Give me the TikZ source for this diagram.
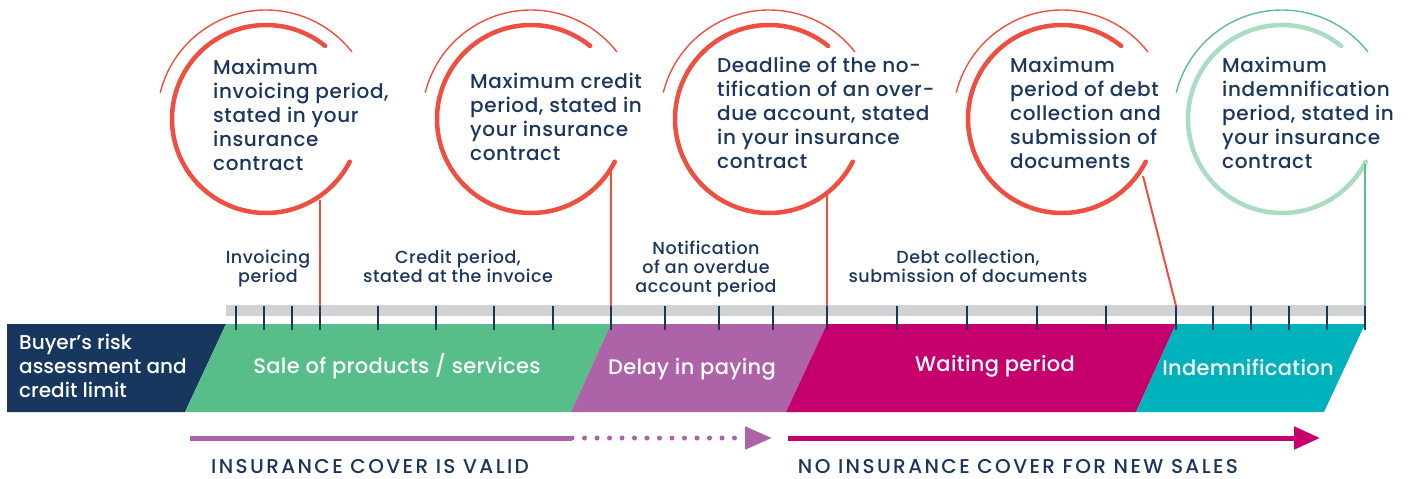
\documentclass[tikz,border=0pt]{standalone}
\usepackage{fontspec}
\setmainfont{Poppins}[UprightFont=* Medium]
\newfontfamily\capsfont{Poppins}[UprightFont=* Medium,LetterSpace=12]
\usetikzlibrary{positioning,arrows.meta}

\definecolor{navy}{HTML}{1B365D}
\definecolor{deepnavy}{HTML}{17375E}
\definecolor{coral}{HTML}{EE4F40}
\definecolor{mint}{HTML}{A9DCC1}
\definecolor{leaf}{HTML}{5DBE8A}
\definecolor{salegreen}{HTML}{57BD89}
\definecolor{lilac}{HTML}{AD63A7}
\definecolor{berry}{HTML}{C5006D}
\definecolor{lagoon}{HTML}{00B2BB}
\definecolor{rail}{HTML}{D0D2D3}

\begin{document}
\begin{tikzpicture}[x=1pt,y=-1pt,
  ring/.style={line width=4.5pt,line cap=round},
  halo/.style={line width=1.4pt},
  bubbletext/.style={text=navy,align=left,anchor=north west,inner sep=0pt,
    font=\fontsize{20}{24}\selectfont\addfontfeatures{LetterSpace=3}},
  spantext/.style={text=navy,align=center,anchor=north,inner sep=0pt,
    font=\fontsize{17.5}{19}\selectfont\addfontfeatures{LetterSpace=3}},
  phasetext/.style={text=white,inner sep=0pt,
    font=\fontsize{21}{24}\selectfont\addfontfeatures{LetterSpace=1.5}},
  covertext/.style={text=navy,inner sep=0pt,anchor=north,font=\capsfont\fontsize{20}{22}\selectfont},
  tick/.style={navy,line width=2pt},
  lead/.style={line width=2pt},
  coverline/.style={line width=5pt}]

\useasboundingbox (0,0) rectangle (1413,479);

% centres of the five bubbles
\coordinate (c1) at (266,119);
\coordinate (c2) at (531,119);
\coordinate (c3) at (769,119);
\coordinate (c4) at (1062,119);
\coordinate (c5) at (1282,119);

\foreach \c/\ringcol/\halocol in {c1/coral/coral,c2/coral/coral,c3/coral/coral,
    c4/coral/coral,c5/mint/leaf} {
  \draw[ring,\ringcol] (\c) ++(-51:94) arc[start angle=-51,end angle=-333,radius=94];
  \draw[halo,\halocol] (\c) ++(-38:109) arc[start angle=-38,end angle=-166,radius=109];
}

\node[bubbletext] (invmax) at (213,59)
  {Maximum\\invoicing period,\\stated in your\\insurance\\contract};
\node[bubbletext] (credmax) at (470,73)
  {Maximum credit\\period, stated in\\your insurance\\contract};
\node[bubbletext] (notifmax) at (717,57)
  {Deadline of the no-\\tification of an over-\\due account, stated\\in your insurance\\contract};
\node[bubbletext] (debtmax) at (1010,57)
  {Maximum\\period of debt\\collection and\\submission of\\documents};
\node[bubbletext] (indemmax) at (1222,57)
  {Maximum\\indemnification\\period, stated in\\your insurance\\contract};

% time rail
\fill[rail] (226,305) rectangle (1365,316);

% phases
\fill[deepnavy] (7,324) -- (226,324) -- (185,412) -- (7,412) -- cycle;
\fill[salegreen] (226,324) -- (611,324) -- (571,412) -- (185,412) -- cycle;
\fill[lilac] (611,324) -- (827,324) -- (786,412) -- (571,412) -- cycle;
\fill[berry] (827,324) -- (1176,324) -- (1136,412) -- (786,412) -- cycle;
\fill[lagoon] (1176,324) -- (1365,324) -- (1324,412) -- (1136,412) -- cycle;

\node[phasetext,anchor=west,align=left,font=\fontsize{20}{24}\selectfont] (buyer) at (19,366)
  {Buyer’s risk\\assessment and\\credit limit};
\node[phasetext] (sale) at (397,366) {Sale of products / services};
\node[phasetext] (delay) at (692,369) {Delay in paying};
\node[phasetext] (waiting) at (995,366) {Waiting period};
\node[phasetext] (indem) at (1248,367) {Indemnification};

% ticks
\foreach \x [count=\i] in {236,264,292,320,378,436,494,553,611,665,719,773,
    827,897,967,1037,1106,1176,1213,1251,1289,1327,1365} {
  \coordinate (t\i) at (\x,306);
  \draw[tick] (t\i) -- ++(0,24);
}

\node[spantext] (invspan) at (268,250) {Invoicing\\period};
\node[spantext] (credspan) at (458,250) {Credit period,\\stated at the invoice};
\node[spantext] (notifspan) at (706,241) {Notification\\of an overdue\\account period};
\node[spantext] (debtspan) at (968,250) {Debt collection,\\submission of documents};

% leads from the bubbles down to the rail
\coordinate (l1) at (320,200);
\coordinate (l2) at (611,168);
\coordinate (l3) at (827,193);
\coordinate (l4) at (1143,176);
\coordinate (l5) at (1365,164);
\draw[lead,coral] (l1) -- (t4);
\draw[lead,coral] (l2) -- (t9);
\draw[lead,coral] (l3) -- (t13);
\draw[lead,coral] (l4) -- (t18);
\draw[lead,leaf] (l5) -- (t23);

% cover arrows
\coordinate (v0) at (190,438);
\coordinate (v1) at (572,438);
\coordinate (v2) at (772,438);
\coordinate (w0) at (788,438);
\coordinate (w1) at (1320,438);
\draw[coverline,lilac] (v0) -- (v1);
\draw[coverline,lilac,line cap=round,dash pattern=on 0pt off 12.5pt,
  -{Triangle[length=27pt,width=22pt]}] (v1) -- (v2);
\draw[coverline,berry,-{Triangle[length=26pt,width=22pt]}] (w0) -- (w1);

\coordinate (vmid) at (370,438);
\coordinate (wmid) at (1018,438);
\node[covertext] (valid) [below=21pt of vmid] {INSURANCE COVER IS VALID};
\node[covertext] (novalid) [below=21pt of wmid] {NO INSURANCE COVER FOR NEW SALES};
\end{tikzpicture}
\end{document}
